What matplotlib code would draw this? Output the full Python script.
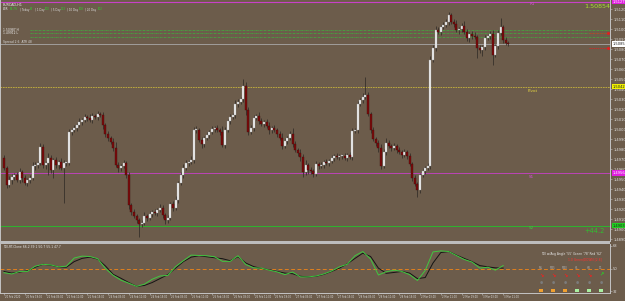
import numpy as np
import matplotlib
matplotlib.use("Agg")
import matplotlib.pyplot as plt
from matplotlib.patches import Rectangle
from matplotlib.ticker import MultipleLocator, FormatStrFormatter

# EURCAD H1, prices as pips above base_price
base_price = 1.48924
first_open = 79
close_pips = [69, 52, 57, 60, 62, 57, 65, 59, 54, 57,
              59, 71, 72, 74, 90, 72, 74, 79, 67, 77,
              72, 75, 69, 74, 74, 105, 107, 109, 112, 115,
              117, 120, 119, 117, 121, 120, 123, 122, 112, 103,
              99, 95, 89, 72, 69, 71, 74, 62, 32, 25,
              21, 17, 13, 14, 21, 19, 23, 25, 24, 27,
              29, 22, 17, 19, 33, 29, 37, 54, 62, 69,
              74, 75, 77, 107, 107, 97, 93, 99, 102, 105,
              108, 109, 107, 105, 92, 107, 116, 120, 122, 133,
              135, 138, 151, 127, 105, 109, 119, 121, 116, 113,
              115, 111, 107, 109, 107, 103, 99, 91, 96, 99,
              103, 93, 87, 84, 80, 65, 72, 67, 66, 63,
              73, 71, 72, 75, 74, 76, 79, 81, 80, 81,
              81, 79, 82, 80, 106, 107, 133, 137, 140, 142,
              123, 107, 98, 94, 89, 71, 85, 94, 91, 89,
              91, 87, 85, 82, 85, 81, 73, 59, 53, 47,
              62, 66, 69, 71, 177, 189, 207, 205, 210, 212,
              215, 222, 215, 213, 207, 208, 211, 205, 199, 203,
              201, 200, 189, 187, 190, 199, 201, 203, 182, 191,
              204, 210, 197, 194, 193]
wick_hi = [3, 2, 4, 3, 2, 3, 4, 2, 3, 2,
           3, 4, 3, 2, 4, 3, 2, 5, 3, 2,
           3, 2, 4, 3, 2, 3, 2, 3, 2, 4,
           2, 3, 2, 4, 3, 2, 3, 2, 3, 2,
           3, 2, 4, 6, 3, 2, 3, 2, 3, 2,
           3, 2, 2, 3, 4, 2, 3, 2, 3, 2,
           4, 3, 2, 3, 2, 3, 4, 2, 3, 4,
           3, 2, 4, 3, 4, 2, 3, 2, 3, 2,
           3, 2, 3, 2, 6, 3, 2, 3, 2, 4,
           3, 2, 7, 4, 3, 3, 3, 2, 4, 3,
           2, 3, 4, 2, 3, 2, 3, 5, 3, 2,
           3, 6, 3, 2, 4, 3, 5, 2, 3, 2,
           3, 2, 3, 2, 3, 2, 3, 2, 3, 2,
           2, 3, 2, 3, 3, 2, 3, 2, 4, 18,
           3, 2, 3, 2, 3, 4, 3, 5, 3, 2,
           3, 2, 3, 2, 3, 2, 3, 2, 3, 2,
           2, 3, 2, 3, 4, 3, 4, 3, 2, 3,
           3, 3, 2, 3, 4, 2, 3, 5, 3, 2,
           3, 4, 2, 3, 2, 3, 2, 3, 4, 2,
           3, 9, 2, 3, 2]
wick_lo = [2, 3, 2, 4, 3, 2, 3, 4, 2, 3,
           3, 2, 4, 3, 2, 3, 4, 12, 3, 8,
           3, 4, 2, 35, 3, 2, 3, 2, 3, 2,
           3, 2, 3, 2, 3, 2, 3, 2, 4, 3,
           3, 2, 3, 2, 4, 3, 2, 3, 4, 3,
           2, 3, 13, 3, 2, 3, 2, 3, 2, 3,
           2, 3, 4, 3, 2, 3, 2, 3, 2, 3,
           2, 3, 2, 3, 3, 2, 4, 3, 2, 3,
           2, 3, 2, 3, 2, 3, 2, 3, 2, 3,
           3, 2, 3, 5, 3, 2, 3, 2, 3, 2,
           3, 2, 4, 3, 2, 3, 2, 3, 2, 3,
           2, 3, 2, 3, 4, 5, 3, 4, 3, 3,
           2, 3, 2, 3, 2, 3, 2, 3, 2, 3,
           3, 2, 3, 2, 3, 2, 3, 2, 3, 2,
           2, 3, 2, 3, 4, 3, 2, 3, 2, 3,
           2, 3, 2, 3, 2, 3, 2, 3, 2, 7,
           3, 2, 3, 2, 3, 2, 3, 2, 3, 2,
           2, 3, 2, 3, 2, 4, 3, 2, 3, 4,
           3, 2, 10, 3, 6, 3, 2, 3, 10, 2,
           3, 2, 3, 2, 2]

pivot_pips = 150.3
s1_pips = 64
s2_pips = 11.5
r1_pips = 235.5
adr_pips = [207, 204, 200]
red_pips = [204, 189]

time_labels = ["20 Feb 2020", "20 Feb 19:00", "21 Feb 03:00", "21 Feb 11:00", "21 Feb 19:00",
               "24 Feb 03:00", "24 Feb 11:00", "24 Feb 19:00", "25 Feb 03:00", "25 Feb 11:00",
               "25 Feb 19:00", "26 Feb 03:00", "26 Feb 11:00", "26 Feb 19:00", "27 Feb 03:00",
               "27 Feb 11:00", "27 Feb 19:00", "28 Feb 03:00", "28 Feb 11:00", "28 Feb 19:00",
               "2 Mar 03:00", "2 Mar 11:00", "2 Mar 19:00", "3 Mar 03:00", "3 Mar 11:00"]

# TDI sub window, one reading every 3 bars
tdi_green = [46.7, 45.7, 47.7, 47.7, 51.8, 53.3, 52.8, 51.3, 51.8, 58.2,
             59.7, 59.4, 57.7, 50.0, 44.6, 40.8, 38.5, 36.0, 37.7, 41.6,
             44.1, 44.6, 51.5, 56.1, 60.5, 60.2, 60.0, 59.2, 55.6, 55.6,
             60.0, 53.1, 50.5, 50.3, 48.7, 47.4, 45.2, 47.2, 43.4, 43.4,
             44.1, 45.7, 48.0, 51.3, 53.3, 60.0, 63.3, 57.4, 44.9, 47.4,
             48.7, 47.7, 45.2, 40.6, 48.5, 63.0, 63.8, 63.3, 60.2, 57.1,
             55.1, 50.3, 51.0, 48.7, 52.3]
tdi_signal = [47.7, 46.4, 47.2, 48.2, 51.0, 53.3, 52.6, 51.3, 51.0, 55.4,
              57.9, 58.9, 57.4, 52.0, 45.4, 42.3, 39.0, 36.0, 36.7, 39.0,
              42.1, 45.2, 50.3, 55.4, 58.9, 60.0, 59.2, 58.4, 57.7, 56.1,
              59.2, 54.3, 51.5, 50.0, 49.0, 47.7, 46.4, 45.9, 43.9, 43.4,
              43.9, 45.4, 47.7, 50.3, 53.6, 57.9, 62.0, 59.4, 50.3, 46.2,
              46.9, 47.7, 46.4, 42.1, 42.9, 54.3, 62.5, 63.3, 60.5, 57.9,
              55.4, 52.3, 51.3, 50.5, 50.3]
tdi_levels = [32, 50, 68]
tf_names = ["M5", "M15", "M30", "H1", "H4", "D1"]
tf_up = [False, False, False, False, False, True]
tf_square = ["#f0a030", "#f0a030", "#f0a030", "#a8f0a0", "#a8f0a0", "#a8f0a0"]

BG = "#6c5c4b"
GRID = "#c4c4c4"
W, H = 625, 301

closes = base_price + np.array(close_pips) * 1e-4
opens = np.concatenate([[base_price + first_open * 1e-4], closes[:-1]])
highs = np.maximum(opens, closes) + np.array(wick_hi) * 1e-4
lows = np.minimum(opens, closes) - np.array(wick_lo) * 1e-4
bars = np.arange(len(closes))
price = lambda p: base_price + p * 1e-4

fig = plt.figure(figsize=(W / 100, H / 100), dpi=100, facecolor=BG)


def px_axes(x0, y0, x1, y1):
    a = fig.add_axes([x0 / W, 1 - y1 / H, (x1 - x0) / W, (y1 - y0) / H])
    a.set_facecolor(BG)
    return a


def ftext(x, y, s, **kw):
    fig.text(x / W, 1 - y / H, s, **kw)


xlim = ((0 - 4) / 2.6, (610 - 4) / 2.6)

ax = px_axes(0, 0, 610, 241)
ax.set_xlim(*xlim)
ax.set_ylim(price(237 - 241), price(237))

up = closes >= opens
ax.vlines(bars, lows, highs, color="#2c2824", lw=0.5, zorder=2)
body_h = np.maximum(np.abs(closes - opens), 0.8e-4)
body_b = np.minimum(opens, closes)
ax.bar(bars[up], body_h[up], bottom=body_b[up], width=0.75, color="#f2f2f2",
       edgecolor="#9a9a9a", lw=0.25, zorder=3)
ax.bar(bars[~up], body_h[~up], bottom=body_b[~up], width=0.75, color="#7c0a0a",
       edgecolor="#3a0a0a", lw=0.25, zorder=3)

# levels
ax.axhline(price(pivot_pips), color="#c8b43c", lw=0.6, ls=(0, (2, 1)), zorder=1)
ax.axhline(price(s1_pips), color="#c840c8", lw=0.6, zorder=1)
ax.axhline(price(s2_pips), color="#30b030", lw=0.8, zorder=1)
ax.axhline(price(r1_pips), color="#c840c8", lw=0.8, zorder=1)
ax.axhline(closes[-1], color="#a8a8a8", lw=0.6, zorder=1)
for p in adr_pips:
    ax.axhline(price(p), xmin=30 / 610, color="#3cb43c", lw=0.5, ls=(0, (3, 1, 1, 1)), zorder=1)
ax.hlines(price(red_pips[0]), 225, 232.3, color="#e02020", lw=0.5, ls=(0, (2, 1)), zorder=4)
ax.hlines(price(red_pips[1]), 225, 232.3, color="#e02020", lw=0.5, ls=(0, (2, 1)), zorder=4)
ax.plot([232.3, 232.3], [price(red_pips[0]), price(red_pips[1])], ls="none", marker="o",
        ms=1.2, color="#e02020", zorder=5)

ax.text(201.5, price(pivot_pips) - 2e-4, "Pivot", color="#e8d840", fontsize=3.0, va="top")
ax.text(202, price(s1_pips) - 1.5e-4, "S1", color="#d850d8", fontsize=3.0, va="top")
ax.text(202, price(s2_pips) - 0.5e-4, "S2", color="#40c840", fontsize=3.0, va="top")
ax.text(202, price(r1_pips) - 0.5e-4, "R1", color="#d850d8", fontsize=3.0, va="top")

ax.yaxis.tick_right()
ax.yaxis.set_major_locator(MultipleLocator(0.001))
ax.yaxis.set_major_formatter(FormatStrFormatter("%.5f"))
ax.tick_params(axis="y", colors=GRID, labelcolor="#e0e0e0", labelsize=2.6, length=1.5,
               width=0.4, pad=0.8)
ax.tick_params(axis="x", bottom=False, labelbottom=False)
for side in ["top", "bottom"]:
    ax.spines[side].set_visible(False)
for side in ["left", "right"]:
    ax.spines[side].set_color(GRID)
    ax.spines[side].set_linewidth(0.7)

# price boxes on the axis
for p, fc, tc in [(price(r1_pips), "#e020e0", "#ffffff"), (closes[-1], "#ffffff", "#202020"),
                  (price(pivot_pips), "#f0f000", "#202020"), (price(s1_pips), "#e020e0", "#ffffff"),
                  (price(s2_pips), "#20d020", "#202020")]:
    ax.text(1.004, p, "%.5f" % p, transform=ax.get_yaxis_transform(), fontsize=2.6, color=tc,
            va="center", ha="left", zorder=6,
            bbox=dict(boxstyle="square,pad=0.2", fc=fc, ec="none"))

# header texts
ftext(3, 5, "EURCAD,H1", fontsize=2.4, color="#f0f0f0", va="center")
segs = [(3, "ADR", "#e0e0e0"), (10, "89.7%", "#30d030"), (20, "| Today", "#e0e0e0"),
        (30, "67", "#30d030"), (35, "| 1 Day", "#e0e0e0"), (45, "100", "#30d030"),
        (51, "| 5 Day", "#e0e0e0"), (61, "113", "#30d030"), (67, "| 10 Day", "#e0e0e0"),
        (79, "108", "#30d030"), (85, "| 20 Day", "#e0e0e0"), (98, "102", "#30d030")]
for x, s, c in segs:
    ftext(x, 9.5, s, fontsize=1.9, color=c, va="center")
ftext(3, 30, "1.50987 H", fontsize=2.2, color="#f0f0f0", va="center")
ftext(3, 33.5, "1.49912 L", fontsize=2.2, color="#f0f0f0", va="center")
ftext(3, 42, "Spread 2.6  ATR 48", fontsize=2.2, color="#d8d8d8", va="center")
ftext(597, 7, "%.5f" % closes[-1], fontsize=4.6, color="#a8e030", va="center", ha="center")
ftext(594, 231, "+44.2", fontsize=4.8, color="#30c030", va="center", ha="center")

# separator
fig.patches.append(Rectangle((0, 1 - 244 / H), 610 / W, 3 / H, transform=fig.transFigure,
                             fc="#bdbdbd", ec="none"))

# TDI window
ax2 = px_axes(0, 244, 610, 293)
ax2.set_xlim(*xlim)
ax2.set_ylim(30.8, 69.2)
tdi_bars = np.arange(len(tdi_green)) * 3
ax2.axhline(50, color="#e0801e", lw=0.7, ls=(0, (4, 2.5)), zorder=2)
ax2.plot(tdi_bars, tdi_signal, color="#141414", lw=0.7, zorder=3)
ax2.plot(tdi_bars, tdi_green, color="#40c840", lw=0.7, zorder=4)
ax2.yaxis.tick_right()
ax2.set_yticks(tdi_levels)
ax2.tick_params(axis="y", colors=GRID, labelcolor="#e0e0e0", labelsize=2.6, length=1.5,
                width=0.4, pad=0.8)
ax2.set_xticks(bars[::8][:len(time_labels)])
ax2.set_xticklabels([])
ax2.tick_params(axis="x", colors=GRID, length=1.5, width=0.4)
for i, lab in zip(bars[::8], time_labels):
    ax2.text(i + 0.4, -0.04, lab, transform=ax2.get_xaxis_transform(), fontsize=1.8,
             color="#dcdcdc", ha="left", va="top")
ax2.spines["top"].set_visible(False)
for side in ["left", "right", "bottom"]:
    ax2.spines[side].set_color(GRID)
    ax2.spines[side].set_linewidth(0.7)

ftext(3, 247, "TDI-RT-Clone 66.2 39.1 50.7 55.1 47.7", fontsize=2.2, color="#e8e8e8",
      va="center")
ftext(602, 254, "TDI w/Avg Angle '55' Green '78' Red '62'", fontsize=2.2, color="#e8e8e8",
      va="center", ha="right")
ftext(602, 259.5, "1.0 Green|DOWN [2.8]", fontsize=2.2, color="#ff3030", va="center",
      ha="right")
cols = [541, 553, 565, 577, 589, 601]
for x, name, isup, sq in zip(cols, tf_names, tf_up, tf_square):
    ftext(x, 268, name, fontsize=2.0, color="#b0b0b0", va="center", ha="center")
    ftext(x, 275.5, "\u2197" if isup else "\u2198", fontsize=3.6, weight="bold",
          color="#20e020" if isup else "#ff1c1c", va="center", ha="center")
    ftext(x, 283, "\u25cf", fontsize=2.6, color="#7c7c7c", va="center", ha="center")
    fig.patches.append(Rectangle(((x - 1.6) / W, 1 - 292 / H), 3.2 / W, 3.2 / H,
                                 transform=fig.transFigure, fc=sq, ec="none"))

fig.savefig("out.png", dpi=100, facecolor=BG)
